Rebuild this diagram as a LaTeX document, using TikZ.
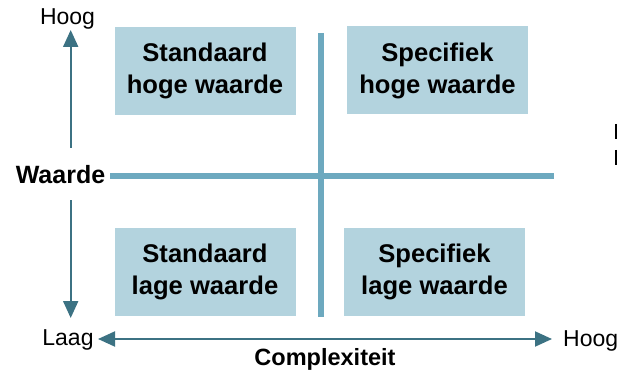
\documentclass[tikz,border=0pt]{standalone}
\usepackage{fontspec}
\setmainfont{Liberation Sans}
\usetikzlibrary{arrows.meta}
\definecolor{boxfill}{HTML}{B3D3DE}
\definecolor{crossline}{HTML}{6DA9BF}
\definecolor{axisline}{HTML}{3C7283}
\tikzset{
  quad/.style={fill=boxfill, draw=none, minimum width=181pt, minimum height=88pt,
    inner sep=0pt, align=center, font=\fontsize{25.6}{32}\selectfont\bfseries},
  axislabel/.style={font=\fontsize{23}{26}\selectfont, inner sep=0pt, anchor=base},
  axistitle/.style={font=\fontsize{25}{28}\selectfont\bfseries, inner sep=0pt, anchor=base},
  axisarrow/.style={draw=axisline, line width=2pt, -{Triangle[width=15pt,length=17pt]}},
  cross/.style={draw=crossline, line width=6.5pt}
}
\begin{document}
\begin{tikzpicture}[x=1pt, y=-1pt]
  \useasboundingbox (0,0) rectangle (617,371);

  % quadrant boxes
  \node[quad] (sh) at (205,71)    {Standaard\\hoge waarde};
  \node[quad] (ph) at (437.5,70.5) {Specifiek\\hoge waarde};
  \node[quad] (sl) at (205,272)   {Standaard\\lage waarde};
  \node[quad] (pl) at (434.5,272) {Specifiek\\lage waarde};

  % dividing cross
  \coordinate (vtop) at (321,33);
  \coordinate (vbot) at (321,317);
  \coordinate (hleft) at (110,176);
  \coordinate (hright) at (554,176);
  \draw[cross] (vtop) -- (vbot);
  \draw[cross] (hleft) -- (hright);

  % vertical axis
  \node[axislabel] (yhigh) at (67.5,25) {Hoog};
  \node[axislabel] (ylow) at (68,345.5) {Laag};
  \node[axistitle] (ytitle) at (60.5,183) {Waarde};
  \coordinate (yup0) at (70.7,148);
  \coordinate (yup1) at (70.7,30);
  \coordinate (ydn0) at (70.7,200);
  \coordinate (ydn1) at (70.7,318);
  \draw[axisarrow] (yup0) -- (yup1);
  \draw[axisarrow] (ydn0) -- (ydn1);

  % horizontal axis
  \node[axislabel, anchor=base west] (xhigh) at (563,346) {Hoog};
  \node[axistitle, font=\fontsize{23.5}{26}\selectfont\bfseries] (xtitle) at (325,365.5) {Complexiteit};
  \coordinate (xl) at (98,339);
  \coordinate (xr) at (552,339);
  \draw[axisarrow, {Triangle[width=15pt,length=17pt]}-{Triangle[width=15pt,length=17pt]}] (xl) -- (xr);

  % edge marks at the right border
  \draw[black, line width=2pt] (615.8,124) -- (615.8,139);
  \draw[black, line width=2pt] (615.8,150) -- (615.8,165);
\end{tikzpicture}
\end{document}
